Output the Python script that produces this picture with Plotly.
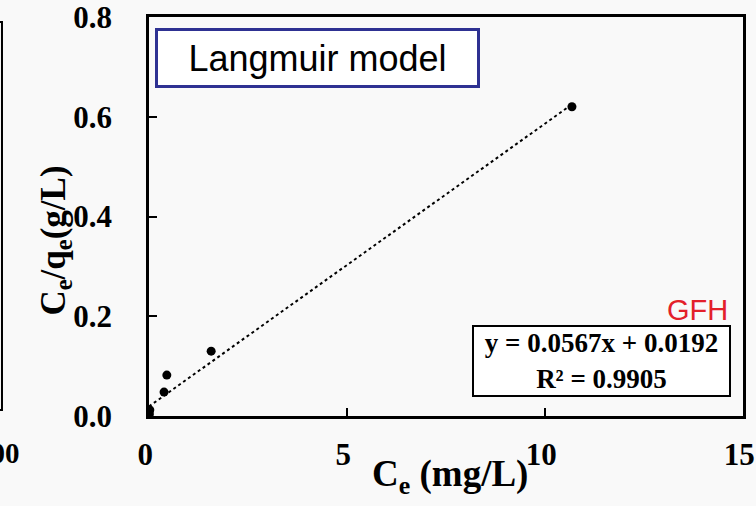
import plotly.graph_objects as go

# Langmuir linearised isotherm for GFH: Ce/qe versus Ce
ce = [0.01, 0.02, 0.38, 0.45, 1.57, 10.68]
ce_over_qe = [0.004, 0.012, 0.048, 0.082, 0.130, 0.620]

slope = 0.0567
intercept = 0.0192
r_squared = 0.9905
fit_x = [0.0, 10.68]
fit_y = [slope * x + intercept for x in fit_x]

x_ticks = [0, 5, 10, 15]
x_tick_text = ["0", "5", "10", "15"]
y_ticks = [0.0, 0.2, 0.4, 0.6, 0.8]
y_tick_text = ["0.0", "0.2", "0.4", "0.6", "0.8"]

serif = "Liberation Serif"
sans = "Liberation Sans"

fig = go.Figure()
fig.add_trace(go.Scatter(
    x=fit_x, y=fit_y, mode="lines",
    line=dict(color="black", width=2, dash="dot"),
    showlegend=False, hoverinfo="skip",
))
fig.add_trace(go.Scatter(
    x=ce, y=ce_over_qe, mode="markers",
    marker=dict(color="black", size=9),
    showlegend=False,
))

axis_common = dict(
    showline=True, linecolor="black", linewidth=2.5, mirror=True,
    ticks="inside", ticklen=8, tickwidth=2, tickcolor="black",
    showgrid=False, zeroline=False, automargin=False,
    ticklabeloverflow="allow",
    tickfont=dict(family=serif, size=31, color="black", weight="bold"),
)

# a trailing no-break space nudges each x label slightly left of its tick
fig.update_xaxes(range=[0, 15], tickvals=x_ticks,
                 ticktext=[t + "\u00a0" for t in x_tick_text],
                 ticklabelstandoff=9, **axis_common)
fig.update_yaxes(range=[0, 0.8], tickvals=y_ticks, ticktext=y_tick_text,
                 ticklabelstandoff=28, **axis_common)

annotations = [
    # axis titles
    dict(text="<b>C<sub>e</sub> (mg/L)</b>", xref="paper", yref="paper",
         x=0.506, y=-0.152, showarrow=False, xanchor="center", yanchor="middle",
         font=dict(family=serif, size=37, color="black")),
    dict(text="<b>C<sub>e</sub>/q<sub>e</sub>(g/L)</b>", xref="paper", yref="paper",
         x=-0.157, y=0.439, showarrow=False, textangle=-90,
         xanchor="center", yanchor="middle",
         font=dict(family=serif, size=35, color="black")),
    # model label
    dict(text="Langmuir model", xref="paper", yref="paper",
         x=0.2837, y=0.897, showarrow=False, xanchor="center", yanchor="middle",
         width=319, height=54, bgcolor="white", bordercolor="#2E3192",
         borderwidth=3, borderpad=0,
         font=dict(family=sans, size=36, color="black")),
    # sample name
    dict(text="GFH", xref="paper", yref="paper",
         x=0.9226, y=0.2657, showarrow=False, xanchor="center", yanchor="middle",
         font=dict(family=sans, size=29, color="#E3202A")),
    # regression equation
    dict(text=f"<b>y = {slope}x + {intercept}<br>R² = {r_squared}</b>",
         xref="paper", yref="paper",
         x=0.7626, y=0.1378, showarrow=False, xanchor="center", yanchor="middle",
         align="center", width=253, height=66, bgcolor="white",
         bordercolor="black", borderwidth=2, borderpad=1,
         font=dict(family=serif, size=27, color="black")),
    # tick label of the neighbouring panel
    dict(text="<b>100</b>", xref="paper", yref="paper",
         x=-0.2138, y=-0.092, showarrow=False, xanchor="right", yanchor="middle",
         font=dict(family=serif, size=29, color="black")),
]

shapes = [
    # right frame of the neighbouring panel
    dict(type="rect", xref="paper", yref="paper",
         x0=-0.32, x1=-0.2475, y0=0.015, y1=0.9875,
         line=dict(color="black", width=2)),
]

fig.update_layout(
    width=756, height=506,
    margin=dict(l=149, r=13, t=17, b=90),
    paper_bgcolor="#F9F9F9", plot_bgcolor="#F9F9F9",
    annotations=annotations, shapes=shapes,
)

fig.write_html("out.html")
